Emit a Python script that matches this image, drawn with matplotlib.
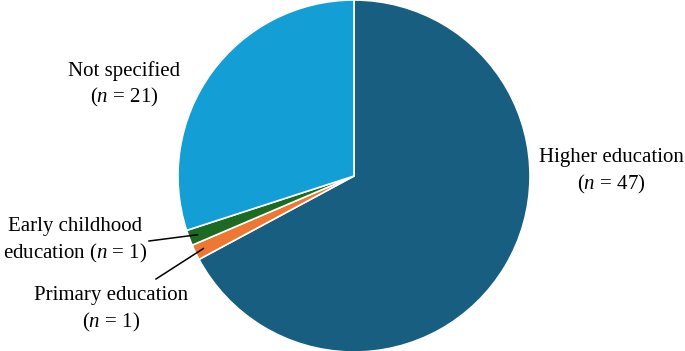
import numpy as np
import matplotlib
matplotlib.use("Agg")
import matplotlib.pyplot as plt

plt.rcParams['font.family'] = ['Liberation Serif', 'DejaVu Serif']
plt.rcParams['mathtext.fontset'] = 'custom'
plt.rcParams['mathtext.it'] = 'Liberation Serif:italic'
plt.rcParams['mathtext.rm'] = 'Liberation Serif'

# data, clockwise from the top
categories = ['Higher education', 'Primary education', 'Early childhood education', 'Not specified']
counts = [47, 1, 1, 21]
colors = ['#175E80', '#EC7834', '#1D6B22', '#139ED6']

W, H = 685, 351
cx, cy, r = 354, 176, 176

fig = plt.figure(figsize=(W / 100, H / 100), dpi=100)
ax = fig.add_axes([(cx - r) / W, (H - cy - r) / H, 2 * r / W, 2 * r / H])

wedges, _ = ax.pie(counts, colors=colors, startangle=90, counterclock=False,
                   radius=1, wedgeprops=dict(edgecolor='white', linewidth=1.2))
ax.set_xlim(-1, 1)
ax.set_ylim(-1, 1)
ax.set_aspect('equal')


def px(x, y):
    # pixel position -> data coords
    return (x - cx) / r, (cy - y) / r


fs = 15
labels = {
    'Higher education': ('Higher education\n($n$ = 47)', 611, 172, 'center'),
    'Not specified': ('Not specified\n($n$ = 21)', 124, 85, 'center'),
    'Early childhood education': ('Early childhood\neducation ($n$ = 1)', 75, 241, 'center'),
    'Primary education': ('Primary education\n($n$ = 1)', 111, 310, 'center'),
}
for name in categories:
    txt, x, y, ha = labels[name]
    tx, ty = px(x, y)
    ax.text(tx, ty, txt, ha=ha, va='center', fontsize=fs, linespacing=1.35)

# leader lines for the two small slices
for w, start in zip(wedges[1:3], [(156, 279), (149, 241)]):
    ang = np.deg2rad((w.theta1 + w.theta2) / 2)
    end = (0.95 * np.cos(ang), 0.95 * np.sin(ang))
    sx, sy = px(*start)
    ax.plot([sx, end[0]], [sy, end[1]], color='black', linewidth=1.1, clip_on=False)

fig.savefig('out.png', dpi=100)
